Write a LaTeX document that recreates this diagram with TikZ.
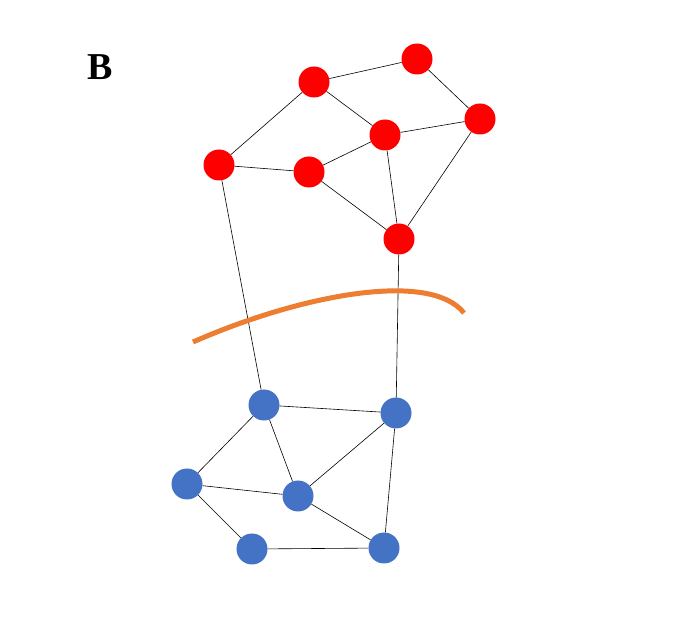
\documentclass[tikz,border=0pt]{standalone}
\usepackage{fontspec}
\setmainfont{Liberation Serif}
\begin{document}
\begin{tikzpicture}[x=1pt,y=-1pt,
  rn/.style={circle,fill={rgb,255:red,255;green,0;blue,0},minimum size=31pt,inner sep=0pt},
  bn/.style={circle,fill={rgb,255:red,68;green,114;blue,196},minimum size=31pt,inner sep=0pt},
  ed/.style={draw=black,line width=0.6pt}]
\useasboundingbox (0,0) rectangle (673,636);
\node[font=\bfseries\fontsize{38}{40}\selectfont] (B) at (100,67) {B};
\node[rn] (r1) at (417,59) {};
\node[rn] (r2) at (314,82) {};
\node[rn] (r3) at (480,119) {};
\node[rn] (r4) at (385,135) {};
\node[rn] (r5) at (219,165) {};
\node[rn] (r6) at (309,172) {};
\node[rn] (r7) at (399,239) {};
\node[bn] (b1) at (264,405) {};
\node[bn] (b2) at (396,413) {};
\node[bn] (b3) at (187,484) {};
\node[bn] (b4) at (298,496) {};
\node[bn] (b5) at (252,549) {};
\node[bn] (b6) at (384,548) {};
\begin{scope}[on background layer/.style={}]
\end{scope}
\foreach \a/\b in {r2/r1,r1/r3,r2/r4,r2/r5,r4/r3,r6/r4,r5/r6,r6/r7,r4/r7,r3/r7,
  b1/b2,b1/b3,b1/b4,b3/b4,b4/b2,b2/b6,b3/b5,b5/b6,b4/b6,r5/b1,r7/b2}
  \draw[ed] (\a) -- (\b);
\draw[line width=5pt,color={rgb,255:red,237;green,125;blue,49}]
  (193,342) .. controls (300,295) and (430,270) .. (464,313);
\end{tikzpicture}
\end{document}
